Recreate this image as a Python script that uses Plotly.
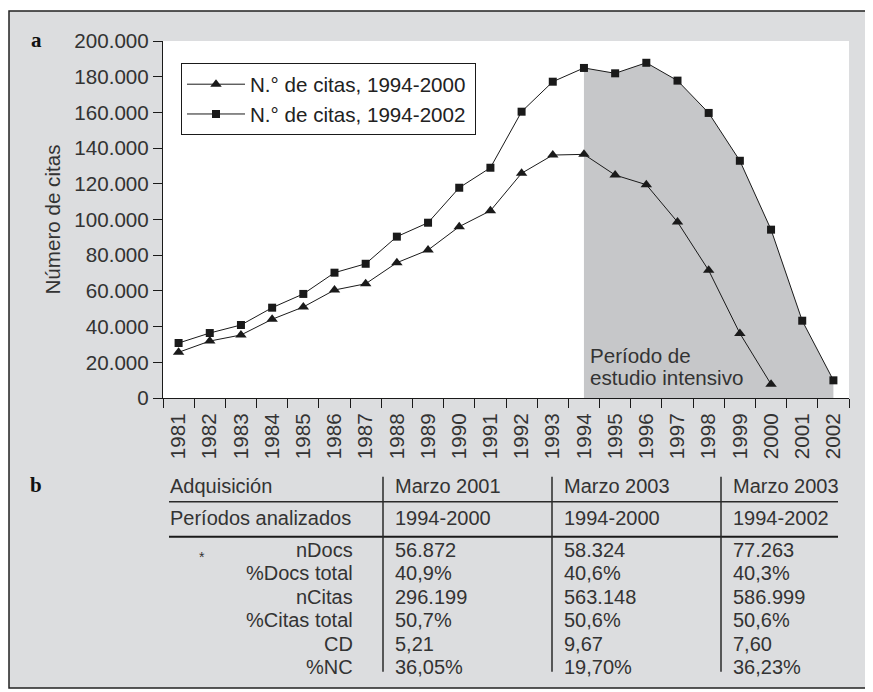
import plotly.graph_objects as go

# ---------------- data ----------------
years = [str(y) for y in range(1981, 2003)]
citas_1994_2000 = [25600, 31900, 35300, 44100, 51000, 60500, 64000, 75800, 82900,
                   96000, 104900, 125900, 136100, 136500, 124900, 119500, 98600,
                   71500, 36200, 7700]
citas_1994_2002 = [30800, 36400, 40900, 50600, 58300, 70200, 75200, 90400, 98200,
                   117800, 129000, 160400, 177200, 184900, 181900, 187800, 177800,
                   159700, 132900, 94300, 43300, 9900]
series_names = ["N.° de citas, 1994-2000", "N.° de citas, 1994-2002"]
y_ticks = list(range(0, 200001, 20000))
shade_start = "1994"
shade_label = ["Período de", "estudio intensivo"]

table_header_label = ["Adquisición", "Períodos analizados"]
table_columns = [["Marzo 2001", "1994-2000"],
                 ["Marzo 2003", "1994-2000"],
                 ["Marzo 2003", "1994-2002"]]
row_labels = ["nDocs", "%Docs total", "nCitas", "%Citas total", "CD", "%NC"]
row_values = [["56.872", "40,9%", "296.199", "50,7%", "5,21", "36,05%"],
              ["58.324", "40,6%", "563.148", "50,6%", "9,67", "19,70%"],
              ["77.263", "40,3%", "586.999", "50,6%", "7,60", "36,23%"]]

# ---------------- layout constants (screen pixels) ----------------
WIN_W, WIN_H = 873, 692
OFF = 8                      # default page body margin
L, R, T, B = 163, 849, 41, 398
FONT = "Liberation Sans, Arial, sans-serif"
TXT = "#333333"
INK = "#1a1a1a"
GRAY_BG = "#dcdddf"
SHADE = "#c6c7c9"
FS = 20.6


def px(x):
    return (x - L) / (R - L)


def py(y):
    return (B - y) / (B - T)


fig = go.Figure()

# shaded "intensive study" area under the 1994-2002 series
i0 = years.index(shade_start)
fig.add_trace(go.Scatter(
    x=years[i0:], y=citas_1994_2002[i0:], mode="none", fill="tozeroy",
    fillcolor=SHADE, showlegend=False, hoverinfo="skip"))

fig.add_trace(go.Scatter(
    x=years[:len(citas_1994_2000)], y=citas_1994_2000, mode="lines+markers",
    name=series_names[0] + "\u2009", line=dict(color=INK, width=1),
    marker=dict(symbol="triangle-up", size=10, color=INK)))
fig.add_trace(go.Scatter(
    x=years, y=citas_1994_2002, mode="lines+markers",
    name=series_names[1] + "\u2009", line=dict(color=INK, width=1),
    marker=dict(symbol="square", size=8, color=INK)))

shapes = [
    # outer gray frame
    dict(type="rect", xref="paper", yref="paper", x0=px(9), x1=px(872), y0=py(688), y1=py(11),
         fillcolor=GRAY_BG, line=dict(color="#222222", width=1.5), layer="below"),
    # white plot area
    dict(type="rect", xref="paper", yref="paper", x0=0, x1=1, y0=0, y1=1,
         fillcolor="white", line=dict(width=0), layer="below"),
]

annotations = []
serif = "Liberation Serif, Times New Roman, serif"
annotations.append(dict(text="<b>a</b>", x=px(36), y=py(40), xref="paper", yref="paper",
                        showarrow=False, xanchor="center", yanchor="middle",
                        font=dict(family=serif, size=21, color="#111")))
annotations.append(dict(text="<b>b</b>", x=px(36), y=py(485), xref="paper", yref="paper",
                        showarrow=False, xanchor="center", yanchor="middle",
                        font=dict(family=serif, size=21, color="#111")))
annotations.append(dict(text="Número de citas", x=px(52), y=py(219.5), xref="paper", yref="paper",
                        showarrow=False, textangle=-90, xanchor="center", yanchor="middle",
                        font=dict(family=FONT, size=FS, color=TXT)))
for k, s in enumerate(shade_label):
    annotations.append(dict(text=s, x=px(588), y=py(355 + 22.7 * k), xref="paper", yref="paper",
                            showarrow=False, xanchor="left", yanchor="middle",
                            font=dict(family=FONT, size=FS, color=TXT)))

# ---------------- table ----------------
col_lines = [383, 552, 721]
col_text_x = [393, 562, 731]
hdr_y = [485.7, 517.8]
row_y = [549.5 + 23.5 * k for k in range(len(row_labels))]
for k, s in enumerate(table_header_label):
    annotations.append(dict(text=s, x=px(168), y=py(hdr_y[k]), xref="paper", yref="paper",
                            showarrow=False, xanchor="left", yanchor="middle",
                            font=dict(family=FONT, size=20, color=TXT)))
for c, col in enumerate(table_columns):
    for k, s in enumerate(col):
        annotations.append(dict(text=s, x=px(col_text_x[c]), y=py(hdr_y[k]), xref="paper", yref="paper",
                                showarrow=False, xanchor="left", yanchor="middle",
                                font=dict(family=FONT, size=20, color=TXT)))
    for k, s in enumerate(row_values[c]):
        annotations.append(dict(text=s, x=px(col_text_x[c]), y=py(row_y[k]), xref="paper", yref="paper",
                                showarrow=False, xanchor="left", yanchor="middle",
                                font=dict(family=FONT, size=20, color=TXT)))
for k, s in enumerate(row_labels):
    annotations.append(dict(text=s, x=px(355), y=py(row_y[k]), xref="paper", yref="paper",
                            showarrow=False, xanchor="right", yanchor="middle",
                            font=dict(family=FONT, size=20, color=TXT)))
annotations.append(dict(text="*", x=px(202), y=py(557), xref="paper", yref="paper",
                        showarrow=False, xanchor="center", yanchor="middle",
                        font=dict(family=FONT, size=14, color=TXT)))

shapes.append(dict(type="line", xref="paper", yref="paper", x0=px(169), x1=px(838),
                   y0=py(501.7), y1=py(501.7), line=dict(color="#2a2a2a", width=1.5)))
shapes.append(dict(type="line", xref="paper", yref="paper", x0=px(169), x1=px(838),
                   y0=py(536.7), y1=py(536.7), line=dict(color="#1a1a1a", width=2)))
for xl in col_lines:
    shapes.append(dict(type="line", xref="paper", yref="paper", x0=px(xl), x1=px(xl),
                       y0=py(476.7), y1=py(671.7), line=dict(color="#2a2a2a", width=1.5)))

fig.update_layout(
    width=WIN_W - OFF, height=WIN_H - OFF,
    margin=dict(l=L - OFF, r=WIN_W - R, t=T - OFF, b=WIN_H - B, pad=0),
    paper_bgcolor="white", plot_bgcolor="rgba(0,0,0,0)",
    separators=",.",
    font=dict(family=FONT, size=FS, color=TXT),
    shapes=shapes, annotations=annotations,
    showlegend=True,
    legend=dict(x=px(181), y=py(63.3), xanchor="left", yanchor="top",
                bgcolor="white", bordercolor=INK, borderwidth=1,
                font=dict(family=FONT, size=FS, color="#222222"),
                itemwidth=58, tracegroupgap=0),
    xaxis=dict(type="category", categoryorder="array", categoryarray=years,
               tickmode="array", tickvals=years, ticktext=years,
               tickangle=-90, ticks="outside", ticklen=9, tickwidth=1.2, tickcolor=INK,
               tickson="boundaries", showline=True, linecolor=INK, linewidth=1.2,
               ticklabelstandoff=6,
               showgrid=False, zeroline=False, range=[-0.5, len(years) - 0.5],
               tickfont=dict(family=FONT, size=FS, color=TXT)),
    yaxis=dict(range=[0, 200000], tickmode="array", tickvals=y_ticks, tickformat=",d",
               ticks="outside", ticklen=9, tickwidth=1.2, tickcolor=INK,
               showline=True, linecolor=INK, linewidth=1.2, showgrid=False, zeroline=False,
               tickfont=dict(family=FONT, size=FS, color=TXT)),
)

fig.write_html("out.html")
